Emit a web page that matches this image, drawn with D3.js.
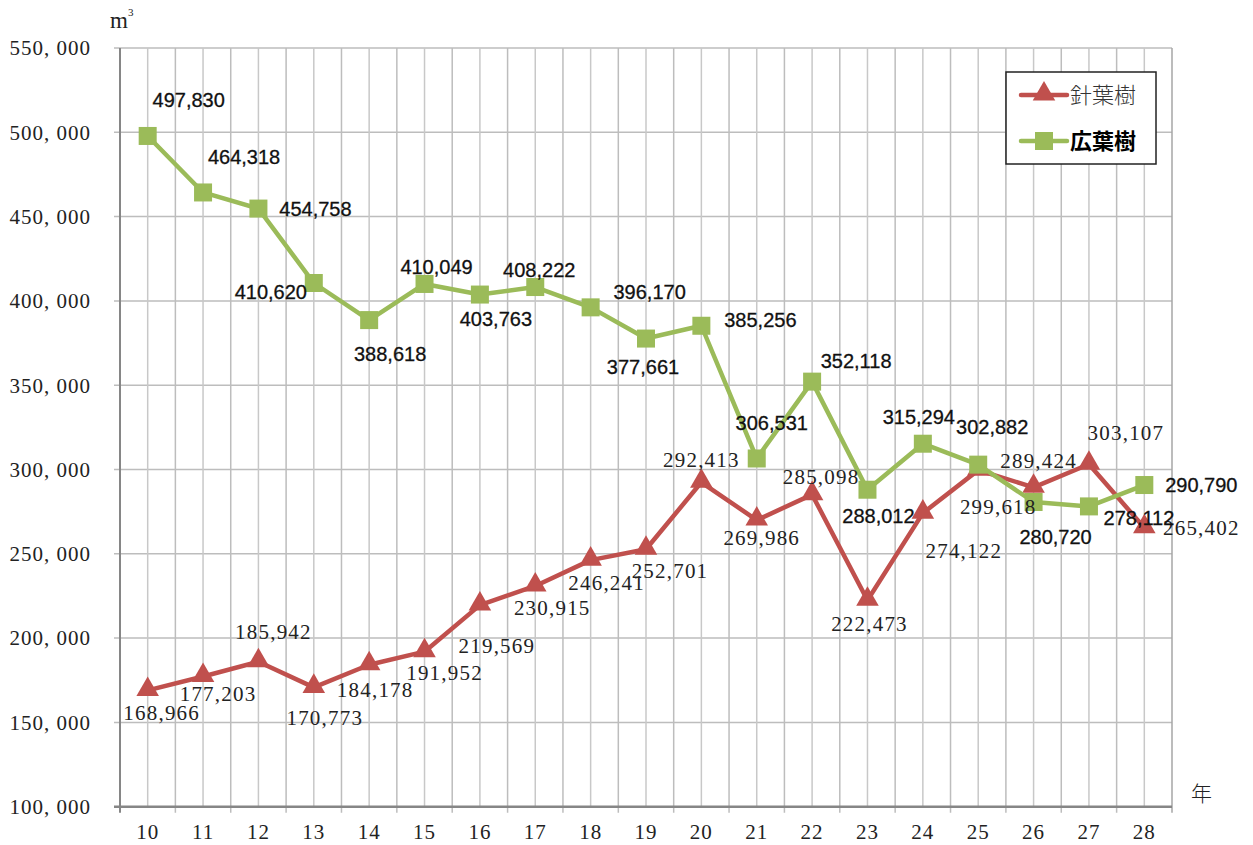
<!DOCTYPE html>
<html>
<head>
<meta charset="utf-8">
<script src="https://cdn.jsdelivr.net/npm/d3@7/dist/d3.min.js"></script>
<style>
  body { margin: 0; background: #fff; }
  svg { display: block; }
</style>
</head>
<body>
<div id="chart"></div>
<script>
// years (Heisei) on the x axis
const years = ["10","11","12","13","14","15","16","17","18","19","20","21","22","23","24","25","26","27","28"]
// 針葉樹 (conifer)
const conifer = [168966,177203,185942,170773,184178,191952,219569,230915,246241,252701,292413,269986,285098,222473,274122,299618,289424,303107,265402]
// 広葉樹 (broadleaf)
const broadleaf = [497830,464318,454758,410620,388618,410049,403763,408222,396170,377661,385256,306531,352118,288012,315294,302882,280720,278112,290790]
const yTicks = [100000,150000,200000,250000,300000,350000,400000,450000,500000,550000]
const seriesNames = ["針葉樹","広葉樹"]

// label offsets from each point (layout only)
const coniferLabelOffset = [[14,22],[15,17],[15,-30],[11,30],[6,25],[20,21],[17,41],[17,22],[16,23],[24,21],[0,-23],[5,18],[9,-18],[2,23],[41,38],[20,37],[5,-27],[37,-32],[57,0]]
const broadleafLabelOffset = [[41,-36],[41,-35],[57,0],[-43,9],[21,34],[12,-17],[16,24],[4,-17],[59,-15],[-3,28],[59,-6],[15,-35],[44,-21],[11,26],[-4,-27],[14,-38],[22,35],[50,12],[57,0]]

const width = 1253, height = 845
const plot = {left: 120, right: 1172, top: 48, bottom: 806.7}
const red = "#C0504D", green = "#9BBB59"
const serif = "'Liberation Serif', 'DejaVu Serif', serif"
const sans = "'Liberation Sans', Arial, sans-serif"
const cjk = "'Noto Sans CJK JP', sans-serif"

const svg = d3.select("#chart").append("svg").attr("width", width).attr("height", height)

const x = d3.scaleBand().domain(years).range([plot.left, plot.right]).padding(0)
const cx = d => x(d) + x.bandwidth() / 2
const y = d3.scaleLinear().domain([100000, 550000]).range([plot.bottom, plot.top])
const fmtTick = v => d3.format(",")(v).replace(",", ", ")
const fmt = d3.format(",")

// gridlines: horizontal
svg.append("g").selectAll("line").data(yTicks).enter().append("line")
  .attr("x1", plot.left - 6).attr("x2", plot.right)
  .attr("y1", d => y(d)).attr("y2", d => y(d))
  .style("stroke", "#BDBDBD").style("stroke-width", 1.5)

// vertical gridlines at centers and at boundaries
svg.append("g").selectAll("line").data(years).enter().append("line")
  .attr("x1", d => cx(d)).attr("x2", d => cx(d))
  .attr("y1", plot.top).attr("y2", plot.bottom)
  .style("stroke", "#C8C8C8").style("stroke-width", 1.5)
svg.append("g").selectAll("line").data(years.slice(1).concat(["end"])).enter().append("line")
  .attr("x1", d => d == "end" ? plot.right : x(d)).attr("x2", d => d == "end" ? plot.right : x(d))
  .attr("y1", plot.top).attr("y2", plot.bottom + 6)
  .style("stroke", (d) => d == "end" ? "#A6A6A6" : "#BDBDBD").style("stroke-width", 1.5)

// axes lines
svg.append("line").attr("x1", plot.left).attr("x2", plot.left).attr("y1", plot.top).attr("y2", plot.bottom + 6)
  .style("stroke", "#868686").style("stroke-width", 2)
svg.append("line").attr("x1", plot.left - 6).attr("x2", plot.right).attr("y1", plot.bottom).attr("y2", plot.bottom)
  .style("stroke", "#868686").style("stroke-width", 2.5)

// y tick labels
svg.append("g").selectAll("text").data(yTicks).enter().append("text")
  .attr("x", 91).attr("y", d => y(d)).attr("dy", "0.35em")
  .attr("text-anchor", "end")
  .style("font-family", serif).style("font-size", "21px").style("letter-spacing", "1px").style("fill", "#222")
  .text(fmtTick)

// x tick labels
svg.append("g").selectAll("text").data(years).enter().append("text")
  .attr("x", d => cx(d)).attr("y", 832).attr("dy", "0.35em")
  .attr("text-anchor", "middle")
  .style("font-family", serif).style("font-size", "21px").style("letter-spacing", "1px").style("fill", "#222")
  .text(d => d)

// unit labels
const unit = svg.append("text").attr("x", 110).attr("y", 28)
  .style("font-family", serif).style("font-size", "23px").style("fill", "#222")
unit.append("tspan").text("m")
unit.append("tspan").attr("dx", 0).attr("dy", -12).style("font-size", "11px").text("3")
svg.append("text").attr("x", 1191).attr("y", 801)
  .style("font-family", cjk).style("font-size", "21px").style("fill", "#222").style("font-weight", 300)
  .text("年")

const line = d3.line().x(d => cx(d.year)).y(d => y(d.value))
const toPts = vals => vals.map((v, i) => ({year: years[i], value: v}))
const tri = d3.symbol().type(d3.symbolTriangle).size(220)

// conifer line
const cPts = toPts(conifer)
svg.append("path").datum(cPts).attr("d", line)
  .style("fill", "none").style("stroke", red).style("stroke-width", 4.5).style("stroke-linejoin", "round")
svg.append("g").selectAll("path").data(cPts).enter().append("path")
  .attr("d", tri).attr("transform", d => `translate(${cx(d.year)},${y(d.value) - 1})`)
  .style("fill", red)

// broadleaf line
const bPts = toPts(broadleaf)
svg.append("path").datum(bPts).attr("d", line)
  .style("fill", "none").style("stroke", green).style("stroke-width", 4.5).style("stroke-linejoin", "round")
svg.append("g").selectAll("rect").data(bPts).enter().append("rect")
  .attr("x", d => cx(d.year) - 9).attr("y", d => y(d.value) - 9)
  .attr("width", 18).attr("height", 18)
  .style("fill", green)

// data labels
svg.append("g").selectAll("text").data(cPts).enter().append("text")
  .attr("x", (d, i) => cx(d.year) + coniferLabelOffset[i][0])
  .attr("y", (d, i) => y(d.value) + coniferLabelOffset[i][1])
  .attr("dy", "0.35em").attr("text-anchor", "middle")
  .style("font-family", serif).style("font-size", "21px").style("letter-spacing", "1.2px").style("fill", "#222")
  .text(d => fmt(d.value))
svg.append("g").selectAll("text").data(bPts).enter().append("text")
  .attr("x", (d, i) => cx(d.year) + broadleafLabelOffset[i][0])
  .attr("y", (d, i) => y(d.value) + broadleafLabelOffset[i][1])
  .attr("dy", "0.35em").attr("text-anchor", "middle")
  .style("font-family", sans).style("font-size", "20px").style("fill", "#111")
  .style("stroke", "#111").style("stroke-width", 0.3)
  .text(d => fmt(d.value))

// legend
const lg = svg.append("g")
lg.append("rect").attr("x", 1006).attr("y", 72).attr("width", 150).attr("height", 92)
  .style("fill", "#fff").style("stroke", "#222").style("stroke-width", 1.5)
const legendRows = [{name: seriesNames[0], color: red, y: 95, bold: false}, {name: seriesNames[1], color: green, y: 141, bold: true}]
legendRows.forEach(r => {
  lg.append("line").attr("x1", 1021).attr("x2", 1067).attr("y1", r.y).attr("y2", r.y)
    .style("stroke", r.color).style("stroke-width", 4.5).style("stroke-linecap", "round")
  if (r.bold) {
    lg.append("rect").attr("x", 1044 - 9).attr("y", r.y - 9).attr("width", 18).attr("height", 18).style("fill", r.color)
  } else {
    lg.append("path").attr("d", tri).attr("transform", `translate(1044,${r.y - 1})`).style("fill", r.color)
  }
  lg.append("text").attr("x", 1070).attr("y", r.y).attr("dy", "0.36em")
    .style("font-family", cjk).style("font-size", "22px")
    .style("font-weight", r.bold ? 700 : 300).style("fill", r.bold ? "#000" : "#333")
    .text(r.name)
})
</script>
</body>
</html>
